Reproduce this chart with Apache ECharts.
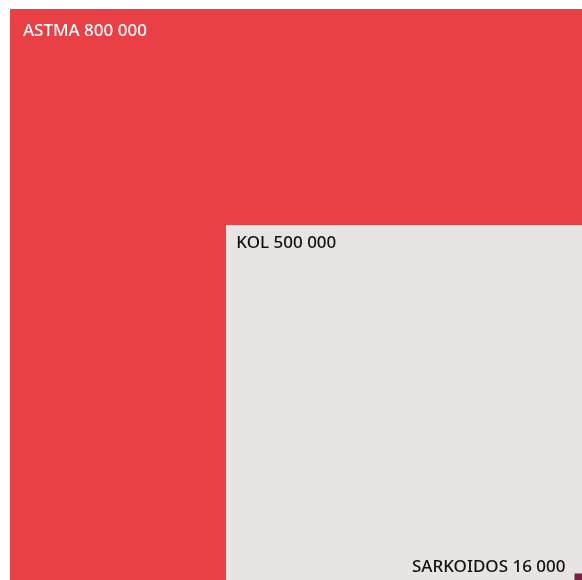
<!DOCTYPE html>
<html>
<head>
<meta charset="utf-8">
<style>
  html, body { margin: 0; padding: 0; background: #ffffff; }
  #chart { width: 582px; height: 580px; }
</style>
<script src="https://cdn.jsdelivr.net/npm/echarts@6/dist/echarts.min.js"></script>
</head>
<body>
<div id="chart"></div>
<script>
// Nested squares, all sharing the bottom-right corner; side length scales with the value.
const names = ['ASTMA', 'KOL', 'SARKOIDOS'];
const values = [800000, 500000, 16000];

const fills = ['#e84044', '#e8e4e3', '#7b1f45'];
const textColors = ['#ffffff', '#111111', '#111111'];
const MAX = 800000;

function fmt(v) {
  return String(v).replace(/\B(?=(\d{3})+(?!\d))/g, ' ');
}

const chart = echarts.init(document.getElementById('chart'), null, { renderer: 'canvas' });

chart.setOption({
  animation: false,
  backgroundColor: '#ffffff',
  // the largest square runs off the right and bottom edges
  grid: { left: 10, top: 9, width: 576, height: 576, outerBoundsMode: 'none', containLabel: false },
  xAxis: { type: 'value', min: 0, max: MAX, show: false },
  yAxis: { type: 'value', min: 0, max: MAX, inverse: true, show: false },
  series: [{
    type: 'custom',
    clip: false,
    data: values.map((v, i) => [v, i]),
    renderItem: function (params, api) {
      const v = api.value(0);
      const i = api.value(1);
      const p0 = api.coord([MAX - v, MAX - v]);
      const p1 = api.coord([MAX, MAX]);
      const w = p1[0] - p0[0];
      const h = p1[1] - p0[1];
      const label = names[i] + ' ' + fmt(v);
      const big = w > 150;
      // inner padding grows slightly with the square
      const padX = 6 + w * 0.012;
      const padY = 11.3 + w * 0.0185;
      return {
        type: 'group',
        children: [
          {
            type: 'rect',
            shape: { x: p0[0], y: p0[1], width: w, height: h },
            style: { fill: fills[i] }
          },
          {
            type: 'text',
            z2: 10,
            style: {
              text: label,
              x: big ? p0[0] + padX : p0[0] - 9,
              y: big ? p0[1] + padY : p0[1] - 6,
              align: big ? 'left' : 'right',
              verticalAlign: 'middle',
              fill: textColors[i],
              fontFamily: '"Noto Sans", sans-serif',
              fontSize: 17,
              fontWeight: 500
            }
          }
        ]
      };
    }
  }]
});
</script>
</body>
</html>
